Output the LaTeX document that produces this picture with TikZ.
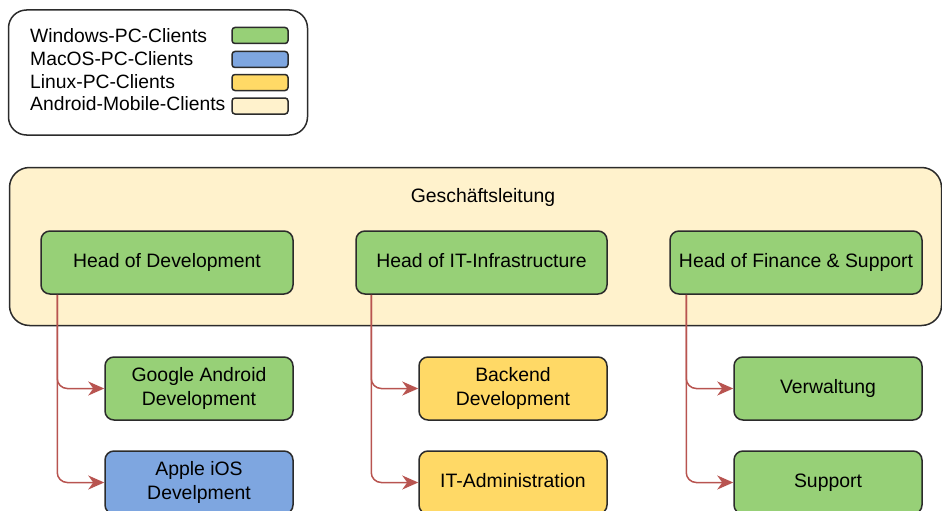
\documentclass[tikz,border=0pt]{standalone}
\usepackage{fontspec}
\setmainfont{Liberation Sans}
\usetikzlibrary{arrows.meta}
\definecolor{gfill}{HTML}{97D077}
\definecolor{bfill}{HTML}{7EA6E0}
\definecolor{yfill}{HTML}{FFD966}
\definecolor{lfill}{HTML}{FFF2CC}
\definecolor{edge}{HTML}{2B2B2B}
\definecolor{arr}{HTML}{B85450}
\tikzset{
  box/.style={draw=edge, line width=1.5pt, rounded corners=9pt, align=center,
    inner sep=0pt, font=\fontsize{19.4}{23.5}\selectfont},
  one/.style={text height=13.5pt, text depth=4pt},
  wbox/.style={box, one, minimum width=252pt, minimum height=63pt},
  cbox/.style={box, minimum width=188pt, minimum height=63pt},
  swatch/.style={draw=edge, line width=1.5pt, rounded corners=3pt, minimum width=56pt, minimum height=16pt, inner sep=0pt},
  ltext/.style={anchor=west, inner sep=0pt, one, font=\fontsize{19.3}{23}\selectfont},
  conn/.style={draw=arr, line width=1.5pt, rounded corners=10pt, -{Stealth[length=16pt,width=14pt,inset=5pt]}}
}
\begin{document}
\begin{tikzpicture}[x=1pt,y=-1pt]
\useasboundingbox (0,0) rectangle (942,511);
% legend
\node[draw=edge, line width=1.5pt, rounded corners=18pt, minimum width=299pt, minimum height=125pt, inner sep=0pt] (legend) at (158,72.5) {};
\node[ltext] (t1) at (30,38) {Windows-PC-Clients};
\node[ltext] (t2) at (30,61) {MacOS-PC-Clients};
\node[ltext] (t3) at (30,84) {Linux-PC-Clients};
\node[ltext] (t4) at (30,106) {Android-Mobile-Clients};
\node[swatch, fill=gfill] (s1) at (260,35.5) {};
\node[swatch, fill=bfill] (s2) at (260,59.5) {};
\node[swatch, fill=yfill] (s3) at (260,82.5) {};
\node[swatch, fill=lfill] (s4) at (260,106) {};
% container
\node[draw=edge, fill=lfill, line width=1.5pt, rounded corners=20pt, minimum width=932pt, minimum height=158pt, inner sep=0pt] (gl) at (475.5,246.5) {};
\node[inner sep=0pt, one, font=\fontsize{19.4}{23.5}\selectfont] (gltext) at (483,198) {Geschäftsleitung};
% heads
\node[wbox, fill=gfill] (hd) at (167,262.5) {Head of Development};
\node[wbox, fill=gfill, minimum width=251pt] (hi) at (481.5,262.5) {Head of IT-Infrastructure};
\node[wbox, fill=gfill] (hf) at (796,262.5) {Head of Finance \& Support};
% children
\node[cbox, fill=gfill] (ga) at (199,388.5) {Google Android\\Development};
\node[cbox, fill=bfill] (ai) at (199,482.5) {Apple iOS\\Develpment};
\node[cbox, fill=yfill] (bd) at (513,388.5) {Backend\\Development};
\node[cbox, one, fill=yfill] (ia) at (513,482.5) {IT-Administration};
\node[cbox, one, fill=gfill] (vw) at (828,388.5) {Verwaltung};
\node[cbox, one, fill=gfill] (sp) at (828,482.5) {Support};
% connectors
\draw[conn] (hd.south west) ++(17,0) |- (ga.west);
\draw[conn] (hd.south west) ++(17,0) |- (ai.west);
\draw[conn] (hi.south west) ++(16,0) |- (bd.west);
\draw[conn] (hi.south west) ++(16,0) |- (ia.west);
\draw[conn] (hf.south west) ++(17,0) |- (vw.west);
\draw[conn] (hf.south west) ++(17,0) |- (sp.west);
\end{tikzpicture}
\end{document}
